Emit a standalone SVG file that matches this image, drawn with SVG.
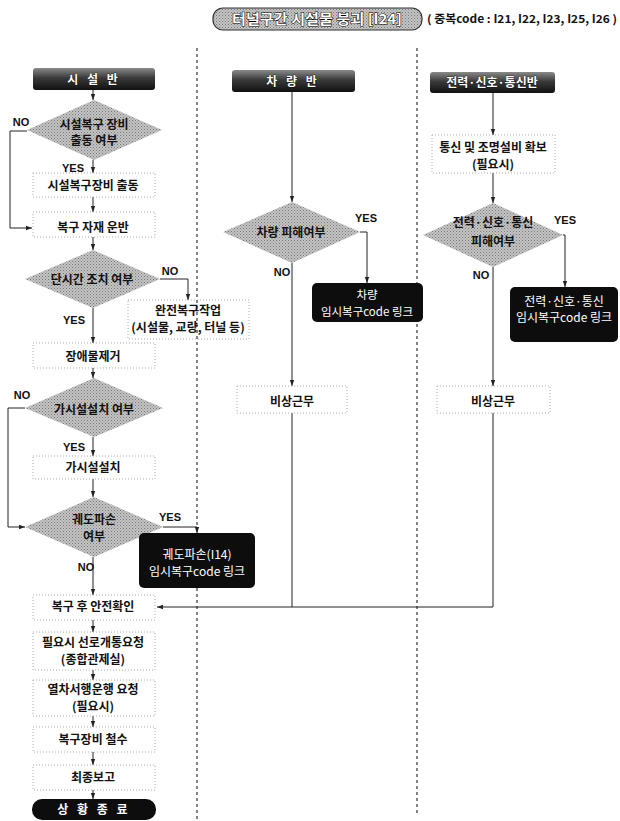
<svg xmlns="http://www.w3.org/2000/svg" width="620" height="821" viewBox="0 0 620 821">
<style>
text{font-family:"Noto Sans CJK KR","Noto Sans",sans-serif;font-weight:bold;fill:#111;text-anchor:middle}
.t{font-size:12px}
.lbl{font-size:11px;font-family:"Liberation Sans","Noto Sans CJK KR",sans-serif;font-weight:bold}
.w{fill:#fff;font-weight:normal;font-size:12px}
.hw{fill:#fff;font-size:12px;stroke:#000;stroke-width:0.6px;paint-order:stroke}
.box{fill:none;stroke:#aaa;stroke-width:1;stroke-dasharray:1 2}
.dia{fill:url(#hatch);stroke:none}
.dark{fill:#0d0d0d}
.sep{stroke:#333;stroke-width:1.2;stroke-dasharray:3 3;fill:none}
.c{fill:none;stroke:#222;stroke-width:1}
.ca{fill:none;stroke:#222;stroke-width:1;marker-end:url(#ah)}
</style>
<defs>
<marker id="ah" viewBox="0 0 6 6" refX="6" refY="3" markerWidth="6" markerHeight="6" orient="auto" markerUnits="userSpaceOnUse"><path d="M0,0.8 L6,3 L0,5.2 z" fill="#222"/></marker>
<pattern id="hatch" width="3" height="3" patternUnits="userSpaceOnUse"><rect width="3" height="3" fill="#c4c4c4"/><rect width="1" height="1" fill="#777"/><rect x="1.5" y="1.5" width="1" height="1" fill="#888"/></pattern>
<linearGradient id="hdr" x1="0" y1="0" x2="0" y2="1"><stop offset="0" stop-color="#8a8a8a"/><stop offset="0.45" stop-color="#3a3a3a"/><stop offset="1" stop-color="#111"/></linearGradient>
</defs>

<g id="title">
<rect x="213" y="8" width="209" height="22" rx="10" fill="url(#hatch)" stroke="#333" stroke-width="1.2"/>
<text x="317" y="24" style="font-size:14px;fill:#fff;stroke:#000;stroke-width:1px;paint-order:stroke" textLength="170" lengthAdjust="spacingAndGlyphs">터널구간 시설물 붕괴 [I24]</text>
<text x="522" y="23" style="font-size:11px" textLength="190" lengthAdjust="spacingAndGlyphs">( 중복code : I21, I22, I23, I25, I26 )</text>
</g>

<g id="separators">
<line class="sep" x1="197" y1="48" x2="197" y2="821"/>
<line class="sep" x1="417" y1="48" x2="417" y2="815"/>
</g>

<g id="connectors">
<line class="ca" x1="93" y1="90" x2="93" y2="100"/>
<line class="ca" x1="93" y1="160" x2="93" y2="173"/>
<line class="ca" x1="93" y1="197" x2="93" y2="212"/>
<polyline class="ca" points="27,131 10,131 10,228 32,228"/>
<line class="ca" x1="93" y1="237" x2="93" y2="250"/>
<polyline class="ca" points="160,279 188,279 188,300"/>
<line class="ca" x1="93" y1="308" x2="93" y2="343"/>
<line class="ca" x1="93" y1="368" x2="93" y2="378"/>
<polyline class="ca" points="25,408 8,408 8,527 25,527"/>
<line class="ca" x1="93" y1="437" x2="93" y2="456"/>
<line class="ca" x1="93" y1="479" x2="93" y2="497"/>
<polyline class="ca" points="163,527 197,527 197,533"/>
<line class="ca" x1="93" y1="557" x2="93" y2="595"/>
<line class="ca" x1="93" y1="620" x2="93" y2="632"/>
<line class="ca" x1="93" y1="670" x2="93" y2="680"/>
<line class="ca" x1="93" y1="716" x2="93" y2="727"/>
<line class="ca" x1="93" y1="752" x2="93" y2="765"/>
<line class="ca" x1="93" y1="790" x2="93" y2="799"/>
<polyline class="ca" points="493,413 493,607 157,607"/>
<line class="c" x1="292" y1="413" x2="292" y2="607"/>
<line class="ca" x1="292" y1="92" x2="292" y2="202"/>
<polyline class="ca" points="360,232 367,232 367,283"/>
<line class="ca" x1="292" y1="263" x2="292" y2="386"/>
<line class="ca" x1="493" y1="93" x2="493" y2="135"/>
<line class="ca" x1="493" y1="173" x2="493" y2="203"/>
<polyline class="ca" points="563,235 565,235 565,287"/>
<line class="ca" x1="493" y1="267" x2="493" y2="386"/>
</g>

<g id="labels">
<text class="lbl" x="21" y="126">NO</text>
<text class="lbl" x="73" y="172">YES</text>
<text class="lbl" x="170" y="275">NO</text>
<text class="lbl" x="74" y="324">YES</text>
<text class="lbl" x="22" y="399">NO</text>
<text class="lbl" x="74" y="451">YES</text>
<text class="lbl" x="170" y="521">YES</text>
<text class="lbl" x="86" y="571">NO</text>
<text class="lbl" x="366" y="222">YES</text>
<text class="lbl" x="282" y="276">NO</text>
<text class="lbl" x="565" y="224">YES</text>
<text class="lbl" x="481" y="279">NO</text>
</g>

<g id="h-facility">
<rect x="33" y="68" width="122" height="22" rx="3" fill="url(#hdr)"/>
<text class="hw" x="94" y="84" letter-spacing="3">시 설 반</text>
</g>
<g id="d1">
<polygon class="dia" points="94,100 162,130 94,160 27,130"/>
<text class="t" x="94" y="129">시설복구 장비</text>
<text class="t" x="94" y="145">출동 여부</text>
</g>
<g id="b1">
<rect class="box" x="33" y="173" width="122" height="24"/>
<text class="t" x="93" y="190">시설복구장비 출동</text>
</g>
<g id="b2">
<rect class="box" x="33" y="212" width="122" height="25"/>
<text class="t" x="93" y="232">복구 자재 운반</text>
</g>
<g id="d2">
<polygon class="dia" points="93,250 160,279 93,308 25,279"/>
<text class="t" x="92" y="284">단시간 조치 여부</text>
</g>
<g id="b3">
<rect class="box" x="128" y="300" width="121" height="39"/>
<text class="t" x="188" y="315">완전복구작업</text>
<text class="t" x="188" y="332">(시설물, 교량, 터널 등)</text>
</g>
<g id="b4">
<rect class="box" x="33" y="343" width="122" height="25"/>
<text class="t" x="93" y="361">장애물제거</text>
</g>
<g id="d3">
<polygon class="dia" points="94,378 163,408 94,437 25,408"/>
<text class="t" x="94" y="414">가시설설치 여부</text>
</g>
<g id="b5">
<rect class="box" x="33" y="456" width="122" height="23"/>
<text class="t" x="93" y="472">가시설설치</text>
</g>
<g id="d4">
<polygon class="dia" points="94,497 163,527 94,557 25,527"/>
<text class="t" x="94" y="524">궤도파손</text>
<text class="t" x="94" y="541">여부</text>
</g>
<g id="k1">
<rect class="dark" x="139" y="533" width="116" height="55" rx="5"/>
<text class="w" x="197" y="559">궤도파손(I14)</text>
<text class="w" x="197" y="576">임시복구code 링크</text>
</g>
<g id="b6">
<rect class="box" x="33" y="595" width="122" height="25"/>
<text class="t" x="93" y="611">복구 후 안전확인</text>
</g>
<g id="b7">
<rect class="box" x="33" y="632" width="122" height="38"/>
<text class="t" x="93" y="647">필요시 선로개통요청</text>
<text class="t" x="93" y="664">(종합관제실)</text>
</g>
<g id="b8">
<rect class="box" x="33" y="680" width="122" height="36"/>
<text class="t" x="93" y="694">열차서행운행 요청</text>
<text class="t" x="93" y="711">(필요시)</text>
</g>
<g id="b9">
<rect class="box" x="33" y="727" width="122" height="25"/>
<text class="t" x="93" y="744">복구장비 철수</text>
</g>
<g id="b10">
<rect class="box" x="33" y="765" width="122" height="25"/>
<text class="t" x="93" y="782">최종보고</text>
</g>
<g id="end">
<rect class="dark" x="32" y="799" width="124" height="21" rx="10"/>
<text class="w" x="94" y="814" letter-spacing="3" style="font-weight:bold">상 황 종 료</text>
</g>

<g id="h-vehicle">
<rect x="232" y="70" width="123" height="22" rx="3" fill="url(#hdr)"/>
<text class="hw" x="293" y="86" letter-spacing="3">차 량 반</text>
</g>
<g id="d5">
<polygon class="dia" points="292,202 360,232 292,263 223,232"/>
<text class="t" x="291" y="237">차량 피해여부</text>
</g>
<g id="k2">
<rect class="dark" x="312" y="283" width="111" height="39" rx="5"/>
<text class="w" x="367" y="299" style="font-size:11.5px">차량</text>
<text class="w" x="367" y="316" style="font-size:11.5px">임시복구code 링크</text>
</g>
<g id="b11">
<rect class="box" x="237" y="386" width="110" height="27"/>
<text class="t" x="292" y="406">비상근무</text>
</g>

<g id="h-power">
<rect x="430" y="72" width="125" height="21" rx="3" fill="url(#hdr)"/>
<text class="hw" x="492" y="87">전력·신호·통신반</text>
</g>
<g id="b12">
<rect class="box" x="432" y="135" width="123" height="38"/>
<text class="t" x="493" y="152">통신 및 조명설비 확보</text>
<text class="t" x="493" y="169">(필요시)</text>
</g>
<g id="d6">
<polygon class="dia" points="493,203 563,235 493,267 423,235"/>
<text class="t" x="493" y="227">전력·신호·통신</text>
<text class="t" x="493" y="246">피해여부</text>
</g>
<g id="k3">
<rect class="dark" x="510" y="287" width="108" height="55" rx="5"/>
<text class="w" x="564" y="306">전력·신호·통신</text>
<text class="w" x="564" y="322">임시복구code 링크</text>
</g>
<g id="b13">
<rect class="box" x="437" y="386" width="113" height="27"/>
<text class="t" x="493" y="406">비상근무</text>
</g>
</svg>
